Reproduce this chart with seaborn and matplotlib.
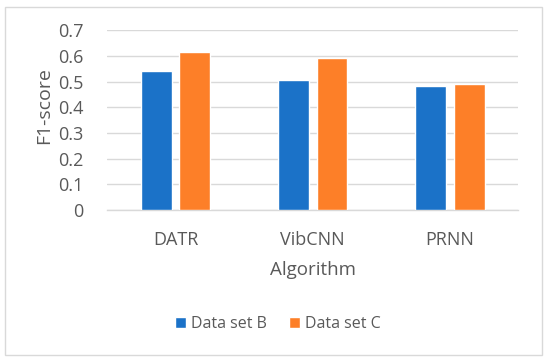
import matplotlib
matplotlib.use("Agg")
import matplotlib.pyplot as plt
import seaborn as sns
import pandas as pd
from matplotlib.patches import Rectangle

algorithms = ["DATR", "VibCNN", "PRNN"]
series_names = ["Data set B", "Data set C"]
data_set_b = [0.542, 0.506, 0.481]
data_set_c = [0.615, 0.592, 0.489]
y_ticks = [0, 0.1, 0.2, 0.3, 0.4, 0.5, 0.6, 0.7]
y_tick_labels = ["0", "0.1", "0.2", "0.3", "0.4", "0.5", "0.6", "0.7"]

df = pd.DataFrame({
    "Algorithm": algorithms * 2,
    "Series": [series_names[0]] * 3 + [series_names[1]] * 3,
    "F1": data_set_b + data_set_c,
})

sns.set_theme(style="white")
plt.rcParams["font.family"] = ["Open Sans", "DejaVu Sans"]

fig = plt.figure(figsize=(5.5, 3.63), dpi=100)
ax = fig.add_axes([0.1945, 0.4215, 0.7475, 0.4955])

palette = {"Data set B": "#1B72C8", "Data set C": "#FD7F28"}
sns.barplot(data=df, x="Algorithm", y="F1", hue="Series", palette=palette,
            width=0.568, gap=0.204, saturation=1, ax=ax, legend=True, zorder=3)

ax.set_ylim(0, 0.7)
ax.set_xlim(-0.5, 2.5)
ax.set_yticks(y_ticks)
ax.set_yticklabels(y_tick_labels)
ax.yaxis.grid(True, color="#D9D9D9", linewidth=1, zorder=0)
ax.set_axisbelow(True)
for s in ["top", "right", "left"]:
    ax.spines[s].set_visible(False)
ax.spines["bottom"].set_color("#D9D9D9")
ax.spines["bottom"].set_linewidth(1)
ax.tick_params(axis="both", length=0, labelsize=13, colors="#595959")
ax.tick_params(axis="x", pad=15)
ax.tick_params(axis="y", pad=17)
ax.set_xlabel("Algorithm", fontsize=13.5, color="#595959", labelpad=9)
ax.set_ylabel("F1-score", fontsize=14, color="#595959")
ax.yaxis.set_label_coords(-0.13, 0.583)

handles, labels = ax.get_legend_handles_labels()
ax.legend_.remove()
fig.legend(handles, labels, loc="center", bbox_to_anchor=(0.505, 0.107), ncol=2,
           frameon=False, fontsize=11.5, handlelength=0.7, handleheight=0.7,
           handletextpad=0.3, columnspacing=1.4, labelcolor="#595959")

fig.patches.append(Rectangle((5 / 550, 1 - 355 / 363), 537 / 550, 348 / 363,
                             transform=fig.transFigure, fill=False,
                             edgecolor="#D9D9D9", linewidth=1))

fig.savefig("out.png", dpi=100)
